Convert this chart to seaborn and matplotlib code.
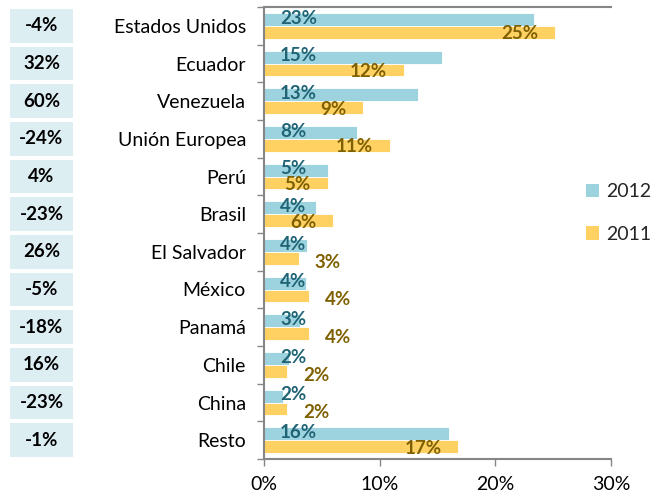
import matplotlib
matplotlib.use("Agg")
import matplotlib.pyplot as plt
import matplotlib.transforms as mtransforms
from matplotlib.patches import Rectangle, Patch
from matplotlib.ticker import FuncFormatter, FixedLocator
import seaborn as sns
import pandas as pd
import numpy as np

categories = ["Estados Unidos", "Ecuador", "Venezuela", "Unión Europea", "Perú", "Brasil",
              "El Salvador", "México", "Panamá", "Chile", "China", "Resto"]
values_2012 = [23.3, 15.4, 13.3, 8.0, 5.5, 4.5, 3.7, 3.6, 3.1, 2.2, 1.6, 16.0]
values_2011 = [25.2, 12.1, 8.6, 10.9, 5.5, 6.0, 3.0, 3.9, 3.9, 2.0, 2.0, 16.8]
labels_2012 = ["23%", "15%", "13%", "8%", "5%", "4%", "4%", "4%", "3%", "2%", "2%", "16%"]
labels_2011 = ["25%", "12%", "9%", "11%", "5%", "6%", "3%", "4%", "4%", "2%", "2%", "17%"]
changes = ["-4%", "32%", "60%", "-24%", "4%", "-23%", "26%", "-5%", "-18%", "16%", "-23%", "-1%"]
years = ["2012", "2011"]

df = pd.DataFrame({
    "pais": categories * 2,
    "valor": values_2012 + values_2011,
    "anio": [years[0]] * len(categories) + [years[1]] * len(categories),
})

sns.set_theme(style="white")
plt.rcParams["font.family"] = ["Lato", "DejaVu Sans"]

c2012 = "#9DD3DF"
c2011 = "#FFD162"
t2012 = "#1F6375"
t2011 = "#7F6000"
axis_grey = "#868686"

fig = plt.figure(figsize=(6.61, 4.95), dpi=100)
ax = fig.add_axes([264 / 661, 1 - 459 / 495, (611 - 264) / 661, (459 - 7) / 495])

sns.barplot(data=df, x="valor", y="pais", hue="anio", hue_order=years, order=categories,
            palette=[c2012, c2011], orient="h", width=0.68, ax=ax, legend=False,
            saturation=1, edgecolor="white", linewidth=0.6)

ax.set_xlim(0, 30)
ax.set_ylim(len(categories) - 0.5, -0.5)
ax.set_xlabel("")
ax.set_ylabel("")
ax.xaxis.set_major_locator(FixedLocator([0, 10, 20, 30]))
ax.xaxis.set_major_formatter(FuncFormatter(lambda v, p: f"{v:.0f}%"))
ax.tick_params(axis="x", which="major", length=5, width=1, color=axis_grey,
               labelsize=14, pad=7, direction="out", bottom=True)
ax.set_yticks(range(len(categories)))
ax.set_yticklabels(categories)
ax.tick_params(axis="y", which="major", length=0, labelsize=14, pad=13)
ax.yaxis.set_minor_locator(FixedLocator(np.arange(-0.5, len(categories), 1.0)))
ax.tick_params(axis="y", which="minor", length=5, width=1, color=axis_grey, left=True,
               direction="out")
for lbl in ax.get_xticklabels() + ax.get_yticklabels():
    lbl.set_color("black")

for side in ["left", "bottom", "top"]:
    ax.spines[side].set_visible(True)
    ax.spines[side].set_color(axis_grey)
    ax.spines[side].set_linewidth(1.5)
ax.spines["right"].set_visible(False)

bar_w = 0.34
off = 1.4
fs_lbl = 13.5
for i in range(len(categories)):
    ax.text(off, i - bar_w / 2 - 0.03, labels_2012[i], ha="left", va="center",
            fontsize=fs_lbl, fontweight="bold", color=t2012)
    v = values_2011[i]
    if v >= 5:
        ax.text(v - 1.45, i + bar_w / 2 + 0.04, labels_2011[i], ha="right", va="center",
                fontsize=fs_lbl, fontweight="bold", color=t2011)
    else:
        ax.text(v + 1.4, i + bar_w / 2 + 0.1, labels_2011[i], ha="left", va="center",
                fontsize=fs_lbl, fontweight="bold", color=t2011)

trans = mtransforms.blended_transform_factory(fig.transFigure, ax.transData)
for i, ch in enumerate(changes):
    rect = Rectangle((10 / 661, i - 0.45), (73 - 10) / 661, 0.9, transform=trans,
                     facecolor="#DDEEF3", edgecolor="none", clip_on=False)
    ax.add_patch(rect)
    ax.text(41.5 / 661, i, ch, transform=trans, ha="center", va="center",
            fontsize=13.5, fontweight="bold", color="black", clip_on=False)

handles = [Patch(facecolor=c2012, edgecolor="none", label=years[0]),
           Patch(facecolor=c2011, edgecolor="none", label=years[1])]
fig.legend(handles=handles, loc="center left", bbox_to_anchor=(578 / 661, 1 - 213 / 495),
           frameon=False, fontsize=14, handlelength=0.7, handleheight=0.7,
           handletextpad=0.35, labelspacing=1.3, borderaxespad=0)

fig.savefig("out.png", dpi=100)
